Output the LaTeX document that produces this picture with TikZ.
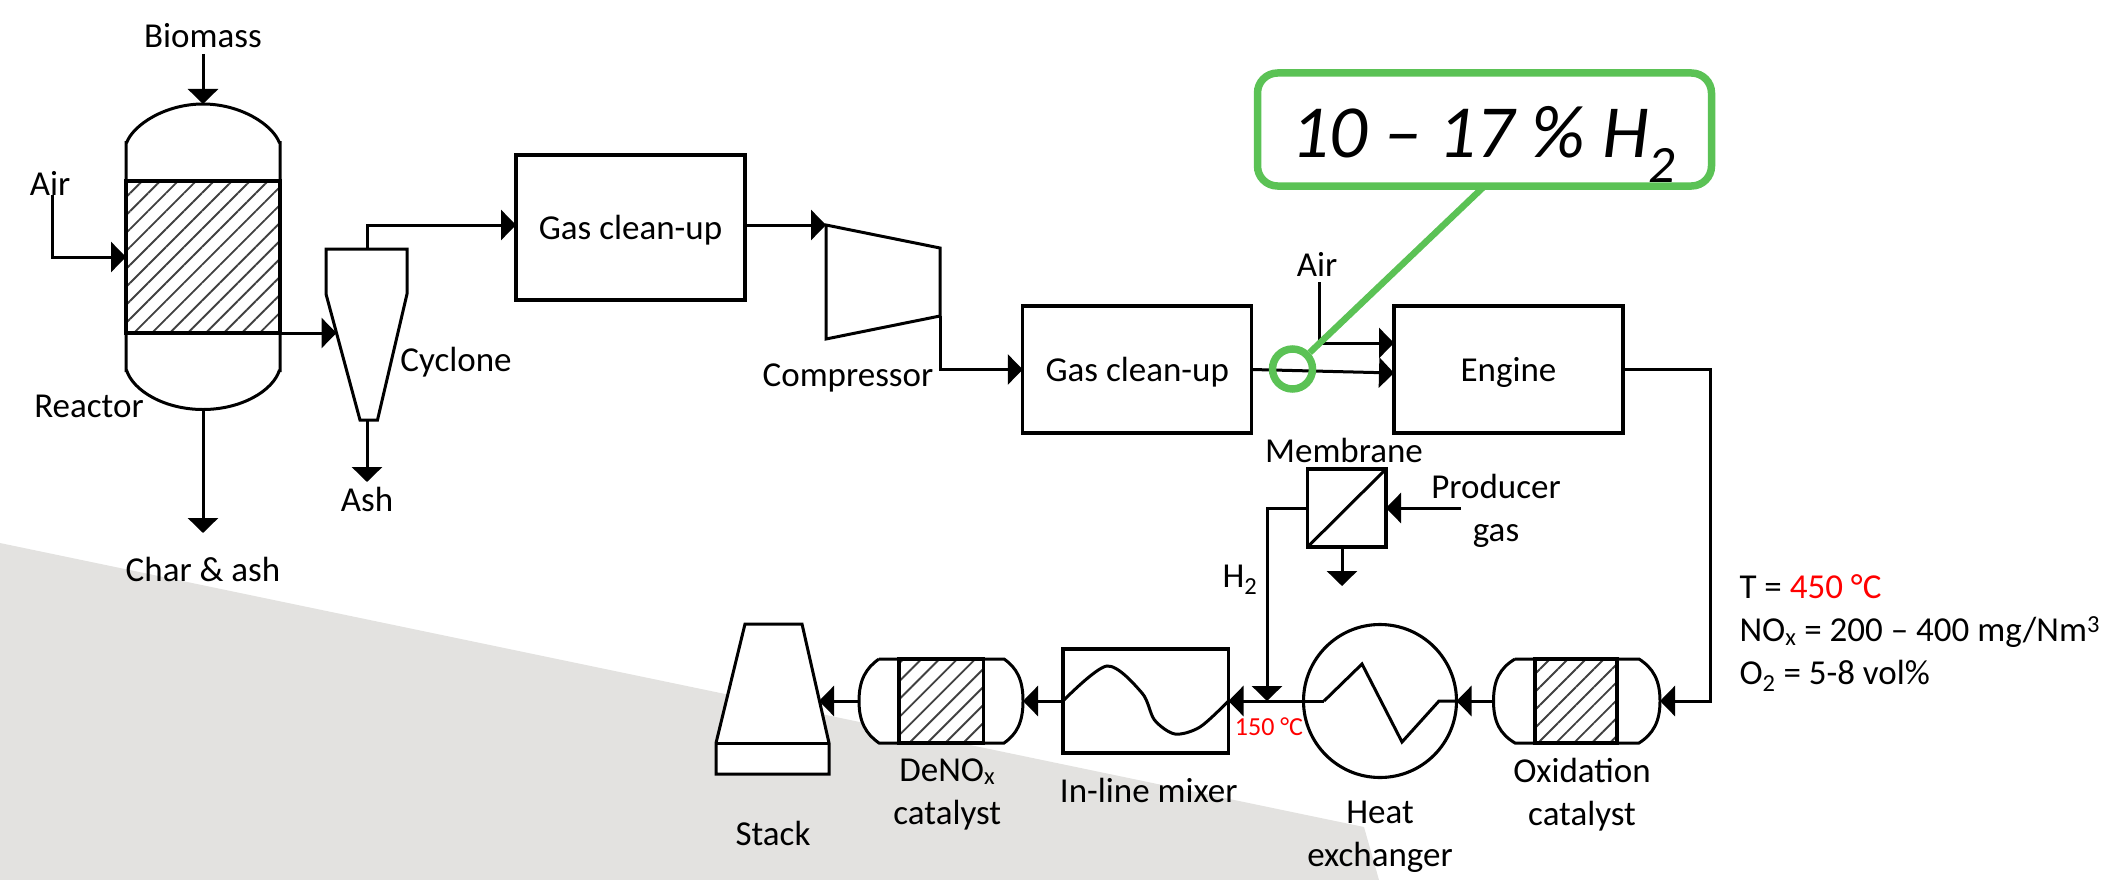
\documentclass[tikz,border=0pt]{standalone}
\usepackage{fontspec}
\setmainfont{Carlito}
\usetikzlibrary{arrows.meta,positioning,patterns.meta}
\definecolor{backgray}{HTML}{E3E2E0}
\definecolor{ringgreen}{HTML}{5BC255}
\tikzstyle{pipe}=[draw=black,line width=3pt,line join=miter]
\tikzstyle{flow}=[pipe,-{Triangle[length=15pt,width=30pt]}]
\tikzstyle{unit}=[rectangle,draw=black,fill=white,line width=3.1pt,inner sep=0pt,outer sep=0pt]
\tikzstyle{gasbox}=[unit,minimum width=229pt,minimum height=127pt]
\tikzstyle{bed}=[rectangle,draw=black,line width=3.4pt,inner sep=0pt,outer sep=0pt,
pattern={Lines[angle=45,distance=12.7pt,line width=1.9pt]},pattern color=black!75]
\tikzstyle{txt}=[inner sep=0pt,outer sep=0pt,font=\fontsize{35}{43}\selectfont,align=center]
\tikzstyle{ring}=[draw=ringgreen,line width=7.5pt,inner sep=0pt]

\begin{document}
\begin{tikzpicture}[x=1pt,y=-1pt,on grid]
            \useasboundingbox (0,0) rectangle (2108,880);
            \fill[backgray] (0,543) -- (1364,827) -- (1379,880) -- (0,880) -- cycle;

            % REACTOR AND CYCLONE

            \node[bed,minimum width=154pt,minimum height=152pt] (reactorbed) at (203,257) {};
            \coordinate (reactortop) at (203,104);
            \coordinate (reactorbot) at (203,409.5);
            \draw[pipe] (reactorbed.north west) -- (126,141) (126.5,143) .. controls (133,125) and (165,104) .. (reactortop)
                .. controls (241,104) and (273,125) .. (279.5,143) (280,141) -- (reactorbed.north east);
            \draw[pipe] (reactorbed.south west) -- (126,372) (126.5,370) .. controls (133,391) and (165,409.5) .. (reactorbot)
                .. controls (241,409.5) and (273,391) .. (279.5,370) (280,372) -- (reactorbed.south east);
            \node[txt,above=221pt of reactorbed] (biomass) {Biomass};
            \node[txt] (air) at (50,183) {Air};
            \node[txt,below left=149pt and 114pt of reactorbed] (reactor) {Reactor};
            \node[txt,below=312pt of reactorbed] (charash) {Char \& ash};
            \coordinate (biomassend) at (203,54);
            \coordinate (airend) at (52,195);
            \coordinate (charend) at (203,533);

            \draw[pipe] (326,249) -- (407,249) -- (407,294) -- (377.5,420) -- (360,420) -- (326,294) -- cycle;
            \coordinate (cyclonein) at (336.5,333);
            \coordinate (cyclonetop) at (367,249);
            \coordinate (cyclonebot) at (367,420);
            \coordinate (ashend) at (367,482);
            \node[txt] (cyclone) at (456,362) {Cyclone};
            \node[txt] (ash) at (367,499) {Ash};

            \path (biomassend) edge[flow] node {} (reactortop);
            \path (reactorbot) edge[flow] node {} (charend);
            \draw[flow] (airend) |- (reactorbed.west);
            \path (reactorbed.south east) edge[flow] node {} (cyclonein);
            \path (cyclonebot) edge[flow] node {} (ashend);

            % GAS LINE

            \node[gasbox,minimum height=145pt] (gas1) at (630.5,227.5) {};
            \node[txt,yshift=-2.5pt] at (gas1) {Gas clean-up};
            \coordinate (compin) at (826,225);
            \coordinate (compout) at (940,316);
            \draw[pipe] (compin) -- (940,248) -- (compout) -- (826,339) -- cycle;
            \node[txt] (compressor) at (848,378) {Compressor};
            \node[gasbox] (gas2) at (1137.25,369.5) {};
            \node[txt,yshift=-2.5pt] at (gas2) {Gas clean-up};
            \node[gasbox,right=371.25pt of gas2] (engine) {};
            \node[txt,yshift=-2.5pt] at (engine) {Engine};
            \node[txt] (air2) at (1317,264) {Air};
            \coordinate (air2end) at (1319,282);
            \coordinate (engineair) at (1394,343);
            \coordinate (enginegas) at (1394,373);

            \draw[flow] (cyclonetop) |- (gas1.west |- compin);
            \path (gas1.east |- compin) edge[flow] node {} (compin);
            \draw[flow] (compout) |- (gas2.west);
            \draw[flow] (air2end) |- (engineair);
            \path (gas2.east) edge[flow] node {} (enginegas);

            % EXHAUST LINE

            \coordinate (oxin) at (1660,701);
            \coordinate (oxout) at (1493.5,701);
            \draw[pipe,fill=white] (1515,659) -- (1639,659) .. controls (1653,668) and (1660,680) .. (oxin)
                .. controls (1660,722) and (1653,734) .. (1639,743) -- (1515,743)
                .. controls (1500,734) and (1493.5,722) .. (oxout) .. controls (1493.5,680) and (1500,668) .. (1515,659);
            \node[bed,minimum width=82pt,minimum height=84pt] (oxbed) at (1576,701) {};
            \node[txt] (oxlabel) at (1582,795) {Oxidation\\catalyst};
            \node[unit,circle,minimum size=153pt,left=196pt of oxbed] (hx) {};
            \node[txt,below=136pt of hx] (hxlabel) {Heat\\exchanger};
            \node[unit,minimum width=165.5pt,minimum height=104pt,left=234.25pt of hx] (mixer) {};
            \node[txt,below=89pt of mixer,xshift=3pt] (mixerlabel) {In-line mixer};
            \draw[pipe] plot[smooth] coordinates {(mixer.west) (1107,666) (1142,693) (1154.5,720) (1175,734) (1200,727) (mixer.east)};

            \coordinate (denoxin) at (1023,701);
            \coordinate (denoxout) at (859,701);
            \draw[pipe,fill=white] (879,659) -- (1004,659) .. controls (1017,668) and (1023,680) .. (denoxin)
                .. controls (1023,722) and (1017,734) .. (1004,743) -- (879,743)
                .. controls (866,734) and (859,722) .. (denoxout) .. controls (859,680) and (866,668) .. (879,659);
            \node[bed,minimum width=84.5pt,minimum height=84pt,left=204.5pt of mixer] (denoxbed) {};
            \node[txt,below=93pt of denoxbed,xshift=6pt] (denoxlabel) {DeNO\textsubscript{x}\\catalyst};

            \draw[pipe,fill=white] (745,624) -- (802,624) -- (829,743) -- (829,774) -- (716,774) -- (716,743) -- cycle;
            \draw[pipe] (716,743) -- (829,743);
            \coordinate (stackin) at (819,701);
            \node[txt] (stack) at (773,833) {Stack};

            \coordinate (zigleft) at (1324,701);
            \coordinate (zigright) at (1439,701);
            \coordinate (junction) at (1267,701);
            \draw[pipe] (hx.east) -- (zigright) -- (1402,742) -- (1362,664) -- (zigleft);

            \draw[flow] (engine.east) -- (1710,369.5) |- (oxin);
            \path (oxout) edge[flow] node {} (hx.east);
            \path (zigleft) edge[flow] node {} (mixer.east);
            \path (mixer.west) edge[flow] node {} (denoxin);
            \path (denoxout) edge[flow] node {} (stackin);

            % MEMBRANE

            \node[unit,minimum width=78.5pt,minimum height=78pt] (membrane) at (1346.75,508) {};
            \draw[pipe] (membrane.south west) -- (membrane.north east);
            \node[txt] (membranelabel) at (1344,450) {Membrane};
            \node[txt] (producer) at (1496,511) {Producer\\gas};
            \node[txt] (h2) at (1240,580) {H\textsubscript{2}};
            \coordinate (producerend) at (1460.6,508);
            \coordinate (memout) at (1342,547);
            \coordinate (memend) at (1342,586);

            \path (producerend) edge[flow] node {} (membrane.east);
            \path (memout) edge[flow] node {} (memend);
            \draw[flow] (membrane.west) -| (junction);

            \node[txt,text=red,font=\fontsize{26}{30}\selectfont] (coldtemp) at (1269,727) {150 °C};
            \node[txt,anchor=west,align=left] (gasdata) at (1739.5,633) {T = \textcolor{red}{450 °C}\\NO\textsubscript{x} = 200 -- 400 mg/Nm\textsuperscript{3}\\O\textsubscript{2} = 5-8 vol\%};

            % HYDROGEN CALLOUT

            \node[ring,rectangle,rounded corners=20pt,minimum width=454pt,minimum height=113pt,outer sep=0pt] (callout) at (1484.5,129.5) {};
            \node[txt,font=\fontsize{75}{80}\selectfont\itshape,yshift=-15pt,xshift=-1pt] at (callout) {10 -- 17 \% H\textsubscript{2}};
            \node[ring,circle,minimum size=40pt] (h2ring) at (1292.5,369) {};
            \path (callout.south) edge[ring,line width=6.5pt] node {} (h2ring);

\end{tikzpicture}
\end{document}
